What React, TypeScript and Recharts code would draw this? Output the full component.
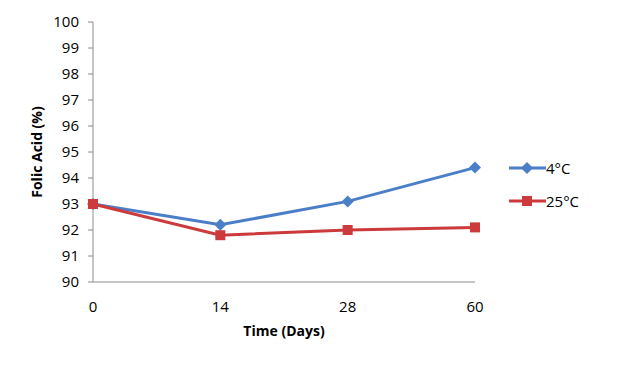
import React from 'react';
import { LineChart, Line, XAxis, YAxis } from 'recharts';

const days = ['0', '14', '28', '60'];
const cold = [93, 92.2, 93.1, 94.4];
const warm = [93, 91.8, 92.0, 92.1];
const yTicks = [90, 91, 92, 93, 94, 95, 96, 97, 98, 99, 100];

const data = days.map((d, i) => ({ day: d, cold: cold[i], warm: warm[i] }));

const BLUE = '#4A7FC8';
const RED = '#CC3A3B';
const AXIS = '#8C8C8C';
const FONT = '"Open Sans", sans-serif';
const TICK = 15;

const Diamond = (props: any) => {
  const { cx, cy } = props;
  if (cx == null || cy == null) return null;
  const r = 6;
  return (
    <polygon
      points={`${cx},${cy - r} ${cx + r},${cy} ${cx},${cy + r} ${cx - r},${cy}`}
      fill={BLUE}
    />
  );
};

const Square = (props: any) => {
  const { cx, cy } = props;
  if (cx == null || cy == null) return null;
  const s = 10;
  return <rect x={cx - s / 2} y={cy - s / 2} width={s} height={s} fill={RED} />;
};

const LegendBox = () => {
  const items = [
    { label: '4°C', color: BLUE, shape: 'diamond' },
    { label: '25°C', color: RED, shape: 'square' },
  ];
  return (
    <div style={{ fontFamily: FONT, fontSize: TICK, color: '#000' }}>
      {items.map((it) => (
        <div key={it.label} style={{ display: 'flex', alignItems: 'center', height: 33 }}>
          <svg width={37} height={14}>
            <line x1={0} y1={7} x2={37} y2={7} stroke={it.color} strokeWidth={3} />
            {it.shape === 'diamond' ? (
              <polygon points="18,1 24,7 18,13 12,7" fill={it.color} />
            ) : (
              <rect x={13} y={2} width={10} height={10} fill={it.color} />
            )}
          </svg>
          <span>{it.label}</span>
        </div>
      ))}
    </div>
  );
};

export default function App() {
  return (
    <div style={{ position: 'absolute', left: 0, top: 0, width: 618, height: 389, background: '#fff' }}>
      <LineChart
        width={618}
        height={389}
        data={data}
        margin={{ top: 22, right: 143, bottom: 77, left: 43 }}
      >
        <XAxis
          dataKey="day"
          stroke={AXIS}
          tickLine={false}
          tick={{ fill: '#000', fontSize: TICK, fontFamily: FONT }}
          tickMargin={13}
          label={{
            value: 'Time (Days)',
            position: 'insideBottom',
            offset: -24,
            style: { fill: '#000', fontSize: 14, fontWeight: 'bold', fontFamily: FONT },
          }}
        />
        <YAxis
          domain={[90, 100]}
          ticks={yTicks}
          width={50}
          stroke={AXIS}
          tickSize={5}
          tick={{ fill: '#000', fontSize: TICK, fontFamily: FONT }}
          tickMargin={9}
          label={{
            value: 'Folic Acid (%)',
            angle: -90,
            position: 'insideLeft',
            offset: -6,
            style: { textAnchor: 'middle', fill: '#000', fontSize: 14, fontWeight: 'bold', fontFamily: FONT },
          }}
        />
        <Line
          dataKey="cold"
          name="4°C"
          stroke={BLUE}
          strokeWidth={3}
          dot={<Diamond />}
          activeDot={false}
          isAnimationActive={false}
        />
        <Line
          dataKey="warm"
          name="25°C"
          stroke={RED}
          strokeWidth={3}
          dot={<Square />}
          activeDot={false}
          isAnimationActive={false}
        />
      </LineChart>
      <div style={{ position: 'absolute', left: 509, top: 151 }}>
        <LegendBox />
      </div>
    </div>
  );
}
